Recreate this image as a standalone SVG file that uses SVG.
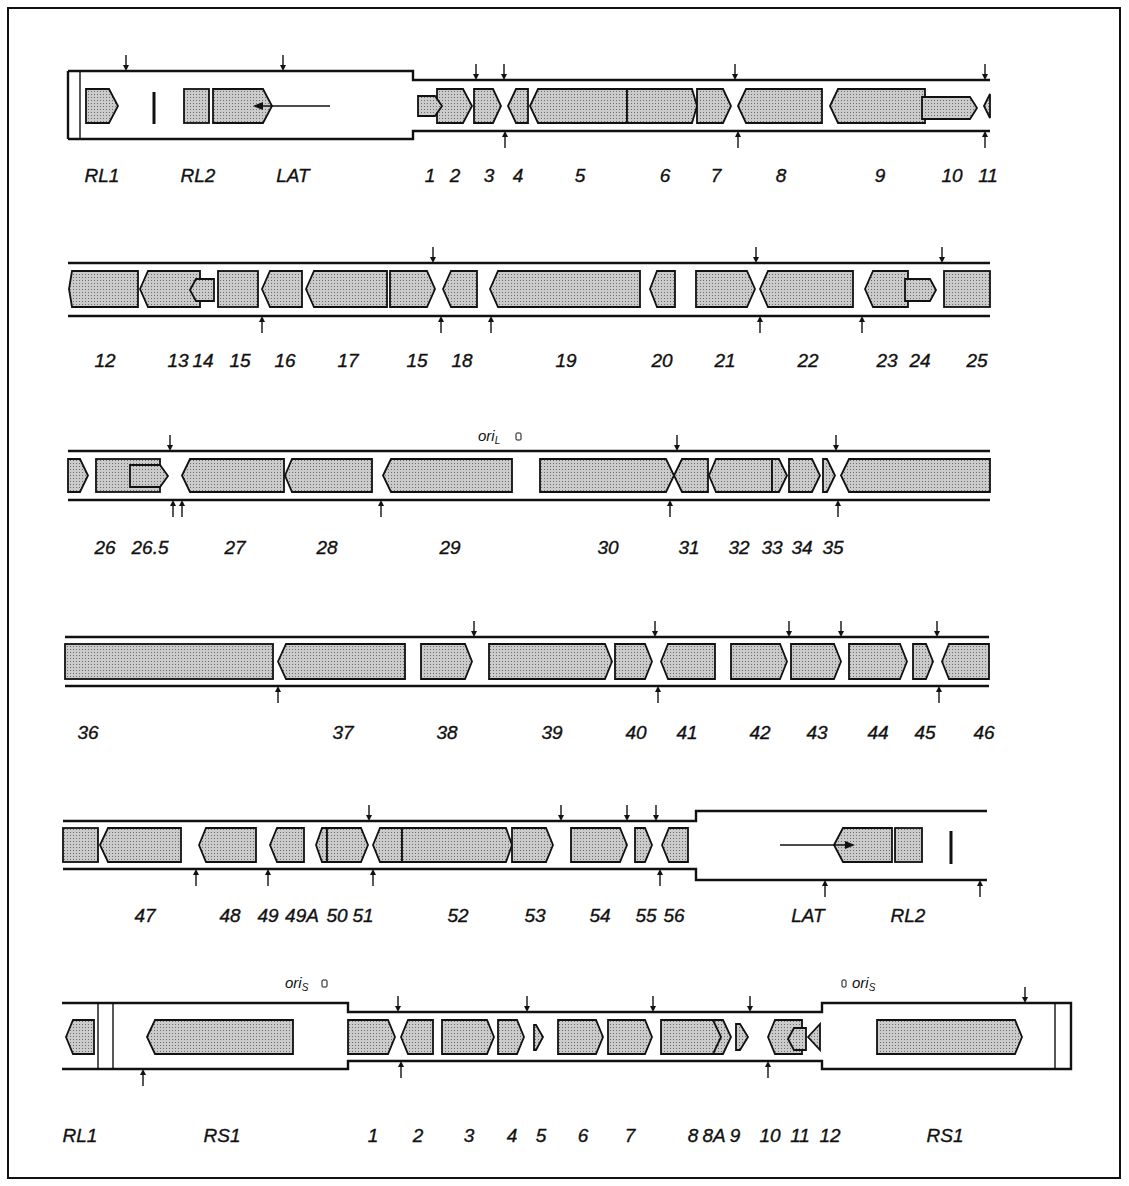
<svg xmlns="http://www.w3.org/2000/svg" width="1129" height="1186" viewBox="0 0 1129 1186">
<style>
.g{fill:url(#dots);stroke:#111;stroke-width:1.8;stroke-linejoin:miter}
.ln{fill:none;stroke:#111;stroke-width:2.4}
.thin{fill:none;stroke:#111;stroke-width:1.4}
.lbl{font-family:"Liberation Sans",Arial,sans-serif;font-style:italic;font-size:19px;text-anchor:middle;fill:#111;stroke:#111;stroke-width:0.35}
.ori{font-family:"Liberation Sans",Arial,sans-serif;font-style:italic;font-size:15px;fill:#111}
.sq{fill:none;stroke:#111;stroke-width:1}
.ar{fill:#111}
</style>
<defs>
<pattern id="dots" width="3" height="3" patternUnits="userSpaceOnUse">
<rect width="3" height="3" fill="#cbcbcb"/><rect x="1" y="1" width="1" height="1" fill="#6e6e6e"/>
</pattern>
<g id="dn"><path d="M0,-16V-4" stroke="#111" stroke-width="1.4"/><path d="M-3,-6H3L0,0Z" fill="#111"/></g>
<g id="up"><path d="M0,17V4" stroke="#111" stroke-width="1.4"/><path d="M-3,6H3L0,0Z" fill="#111"/></g>
</defs>
<rect x="0" y="0" width="1129" height="1186" fill="#fff"/>
<rect x="8" y="8" width="1112" height="1170" fill="none" stroke="#111" stroke-width="2"/>

<!-- ROW 1 -->
<g id="row1-dna">
<path class="ln" d="M68,71H413V80H990M68,139H413V131H990M68,71V139"/>
<path class="thin" d="M80,71V139"/>
</g>
<g id="r1-RL1"><polygon class="g" points="86,89 109,89 118,106 109,123 86,123"/><text class="lbl" x="102" y="182">RL1</text></g>
<g id="r1-bar"><rect x="152.5" y="92" width="3" height="32" fill="#111"/></g>
<g id="r1-RL2"><rect class="g" x="184" y="89" width="25" height="34"/><text class="lbl" x="198" y="182">RL2</text></g>
<g id="r1-LAT"><polygon class="g" points="213,89 263,89 272,106 263,123 213,123"/><text class="lbl" x="293" y="182">LAT</text></g>
<g id="r1-2"><polygon class="g" points="437,89 463,89 472,106 463,123 437,123"/><text class="lbl" x="455" y="182">2</text></g>
<g id="r1-1"><polygon class="g" points="418,96 435,96 442,106 435,116 418,116"/><text class="lbl" x="430" y="182">1</text></g>
<g id="r1-3"><polygon class="g" points="474,89 493,89 501,106 493,123 474,123"/><text class="lbl" x="489" y="182">3</text></g>
<g id="r1-4"><polygon class="g" points="508,106 516,89 528,89 528,123 516,123"/><text class="lbl" x="518" y="182">4</text></g>
<g id="r1-5"><polygon class="g" points="530,106 538,89 627,89 627,123 538,123"/><text class="lbl" x="580" y="182">5</text></g>
<g id="r1-6"><polygon class="g" points="627,89 692,89 697,106 692,123 627,123"/><text class="lbl" x="665" y="182">6</text></g>
<g id="r1-7"><polygon class="g" points="697,89 723,89 731,106 723,123 697,123"/><text class="lbl" x="716" y="182">7</text></g>
<g id="r1-8"><polygon class="g" points="738,106 746,89 822,89 822,123 746,123"/><text class="lbl" x="781" y="182">8</text></g>
<g id="r1-9"><polygon class="g" points="830,106 838,89 925,89 925,123 838,123"/><text class="lbl" x="880" y="182">9</text></g>
<g id="r1-10"><polygon class="g" points="922,97 970,97 977,108 970,119 922,119"/><text class="lbl" x="952" y="182">10</text></g>
<g id="r1-11"><polygon class="g" points="984,106 990,94 990,118"/><text class="lbl" x="988" y="182">11</text></g>

<!-- ROW 2 -->
<g id="row2-dna"><path class="ln" d="M68,263H990M68,316H990"/></g>
<g id="r2-12"><polygon class="g" points="69,289 72,271 138,271 138,307 72,307"/><text class="lbl" x="105" y="367">12</text></g>
<g id="r2-13"><polygon class="g" points="140,289 148,271 200,271 200,307 148,307"/><text class="lbl" x="178" y="367">13</text></g>
<g id="r2-14"><polygon class="g" points="190,290 196,279 214,279 214,301 196,301"/><text class="lbl" x="203" y="367">14</text></g>
<g id="r2-15a"><rect class="g" x="218" y="271" width="40" height="36"/><text class="lbl" x="240" y="367">15</text></g>
<g id="r2-16"><polygon class="g" points="262,289 270,271 302,271 302,307 270,307"/><text class="lbl" x="285" y="367">16</text></g>
<g id="r2-17"><polygon class="g" points="306,289 314,271 387,271 387,307 314,307"/><text class="lbl" x="348" y="367">17</text></g>
<g id="r2-15b"><polygon class="g" points="390,271 427,271 435,289 427,307 390,307"/><text class="lbl" x="417" y="367">15</text></g>
<g id="r2-18"><polygon class="g" points="443,289 451,271 477,271 477,307 451,307"/><text class="lbl" x="462" y="367">18</text></g>
<g id="r2-19"><polygon class="g" points="490,289 498,271 640,271 640,307 498,307"/><text class="lbl" x="566" y="367">19</text></g>
<g id="r2-20"><polygon class="g" points="650,289 657,271 675,271 675,307 657,307"/><text class="lbl" x="662" y="367">20</text></g>
<g id="r2-21"><polygon class="g" points="696,271 747,271 755,289 747,307 696,307"/><text class="lbl" x="725" y="367">21</text></g>
<g id="r2-22"><polygon class="g" points="760,289 768,271 853,271 853,307 768,307"/><text class="lbl" x="808" y="367">22</text></g>
<g id="r2-23"><polygon class="g" points="865,289 873,271 908,271 908,307 873,307"/><text class="lbl" x="887" y="367">23</text></g>
<g id="r2-24"><polygon class="g" points="905,279 930,279 936,290 930,301 905,301"/><text class="lbl" x="920" y="367">24</text></g>
<g id="r2-25"><rect class="g" x="944" y="271" width="46" height="36"/><text class="lbl" x="977" y="367">25</text></g>

<!-- ROW 3 -->
<g id="row3-dna"><path class="ln" d="M68,451H990M68,500H990"/></g>
<g id="r3-oriL"><text class="ori" x="478" y="441">ori<tspan font-size="10" dy="3">L</tspan></text><rect class="sq" x="516" y="433" width="5" height="7" rx="1"/></g>
<g id="r3-25"><polygon class="g" points="68,459 80,459 88,475.5 80,492 68,492"/></g>
<g id="r3-26"><rect class="g" x="96" y="459" width="64" height="33"/><text class="lbl" x="105" y="554">26</text></g>
<g id="r3-26.5"><polygon class="g" points="130,465 160,465 168,476 160,487 130,487"/><text class="lbl" x="150" y="554">26.5</text></g>
<g id="r3-27"><polygon class="g" points="182,475.5 190,459 284,459 284,492 190,492"/><text class="lbl" x="235" y="554">27</text></g>
<g id="r3-28"><polygon class="g" points="285,475.5 292,459 372,459 372,492 292,492"/><text class="lbl" x="327" y="554">28</text></g>
<g id="r3-29"><polygon class="g" points="383,475.5 391,459 512,459 512,492 391,492"/><text class="lbl" x="450" y="554">29</text></g>
<g id="r3-30"><polygon class="g" points="540,459 666,459 674,475.5 666,492 540,492"/><text class="lbl" x="608" y="554">30</text></g>
<g id="r3-31"><polygon class="g" points="674,475.5 682,459 708,459 708,492 682,492"/><text class="lbl" x="689" y="554">31</text></g>
<g id="r3-32"><polygon class="g" points="709,475.5 716,459 772,459 772,492 716,492"/><text class="lbl" x="739" y="554">32</text></g>
<g id="r3-33"><polygon class="g" points="772,459 779,459 787,475.5 779,492 772,492"/><text class="lbl" x="772" y="554">33</text></g>
<g id="r3-34"><polygon class="g" points="789,459 812,459 820,475.5 812,492 789,492"/><text class="lbl" x="802" y="554">34</text></g>
<g id="r3-35"><polygon class="g" points="823,459 827,459 835,475.5 827,492 823,492"/><text class="lbl" x="833" y="554">35</text></g>
<g id="r3-36"><polygon class="g" points="841,475.5 849,459 990,459 990,492 849,492"/></g>

<!-- ROW 4 -->
<g id="row4-dna"><path class="ln" d="M65,637H989M65,686H989"/></g>
<g id="r4-36"><rect class="g" x="65" y="644" width="208" height="35"/><text class="lbl" x="88" y="739">36</text></g>
<g id="r4-37"><polygon class="g" points="278,661.5 286,644 405,644 405,679 286,679"/><text class="lbl" x="343" y="739">37</text></g>
<g id="r4-38"><polygon class="g" points="421,644 465,644 472,661.5 465,679 421,679"/><text class="lbl" x="447" y="739">38</text></g>
<g id="r4-39"><polygon class="g" points="489,644 605,644 612,661.5 605,679 489,679"/><text class="lbl" x="552" y="739">39</text></g>
<g id="r4-40"><polygon class="g" points="615,644 645,644 652,661.5 645,679 615,679"/><text class="lbl" x="636" y="739">40</text></g>
<g id="r4-41"><polygon class="g" points="661,661.5 668,644 715,644 715,679 668,679"/><text class="lbl" x="687" y="739">41</text></g>
<g id="r4-42"><polygon class="g" points="731,644 780,644 787,661.5 780,679 731,679"/><text class="lbl" x="760" y="739">42</text></g>
<g id="r4-43"><polygon class="g" points="791,644 834,644 841,661.5 834,679 791,679"/><text class="lbl" x="817" y="739">43</text></g>
<g id="r4-44"><polygon class="g" points="849,644 900,644 907,661.5 900,679 849,679"/><text class="lbl" x="878" y="739">44</text></g>
<g id="r4-45"><polygon class="g" points="913,644 926,644 933,661.5 926,679 913,679"/><text class="lbl" x="925" y="739">45</text></g>
<g id="r4-46"><polygon class="g" points="942,661.5 949,644 989,644 989,679 949,679"/><text class="lbl" x="984" y="739">46</text></g>

<!-- ROW 5 -->
<g id="row5-dna"><path class="ln" d="M63,821H696V811H987M63,869H696V880H987"/></g>
<g id="r5-46"><rect class="g" x="63" y="828" width="35" height="34"/></g>
<g id="r5-47"><polygon class="g" points="100,845 108,828 181,828 181,862 108,862"/><text class="lbl" x="145" y="922">47</text></g>
<g id="r5-48"><polygon class="g" points="199,845 206,828 256,828 256,862 206,862"/><text class="lbl" x="230" y="922">48</text></g>
<g id="r5-49"><polygon class="g" points="270,845 277,828 304,828 304,862 277,862"/><text class="lbl" x="268" y="922">49</text></g>
<g id="r5-49A"><polygon class="g" points="316,845 322,828 327,828 327,862 322,862"/><text class="lbl" x="302" y="922">49A</text></g>
<g id="r5-50"><polygon class="g" points="327,828 361,828 368,845 361,862 327,862"/><text class="lbl" x="337" y="922">50</text></g>
<g id="r5-51"><polygon class="g" points="373,845 380,828 402,828 402,862 380,862"/><text class="lbl" x="363" y="922">51</text></g>
<g id="r5-52"><polygon class="g" points="402,828 506,828 512,845 506,862 402,862"/><text class="lbl" x="458" y="922">52</text></g>
<g id="r5-53"><polygon class="g" points="512,828 546,828 553,845 546,862 512,862"/><text class="lbl" x="535" y="922">53</text></g>
<g id="r5-54"><polygon class="g" points="571,828 620,828 627,845 620,862 571,862"/><text class="lbl" x="600" y="922">54</text></g>
<g id="r5-55"><polygon class="g" points="635,828 645,828 652,845 645,862 635,862"/><text class="lbl" x="646" y="922">55</text></g>
<g id="r5-56"><polygon class="g" points="662,845 669,828 688,828 688,862 669,862"/><text class="lbl" x="674" y="922">56</text></g>
<g id="r5-LAT"><polygon class="g" points="834,845 843,828 892,828 892,862 843,862"/><text class="lbl" x="808" y="922">LAT</text></g>
<g id="r5-RL2"><rect class="g" x="895" y="828" width="27" height="34"/><text class="lbl" x="908" y="922">RL2</text></g>
<g id="r5-bar"><rect x="949.5" y="831" width="3" height="33" fill="#111"/></g>

<!-- ROW 6 -->
<g id="row6-dna">
<path class="ln" d="M62,1003H348V1012H822V1003H1071V1069H822V1061H348V1069H62"/>
<path class="thin" d="M98,1003V1069M113,1003V1069M1055,1003V1069"/>
</g>
<g id="r6-oriS-a"><text class="ori" x="285" y="988">ori<tspan font-size="10" dy="3">S</tspan></text><rect class="sq" x="322" y="980" width="5" height="7" rx="1"/></g>
<g id="r6-oriS-b"><rect class="sq" x="842" y="980" width="4" height="7" rx="1"/><text class="ori" x="852" y="988">ori<tspan font-size="10" dy="3">S</tspan></text></g>
<g id="r6-RL1"><polygon class="g" points="66,1037 73,1020 94,1020 94,1054 73,1054"/><text class="lbl" x="80" y="1142">RL1</text></g>
<g id="r6-RS1a"><polygon class="g" points="147,1037 155,1020 293,1020 293,1054 155,1054"/><text class="lbl" x="222" y="1142">RS1</text></g>
<g id="r6-1"><polygon class="g" points="348,1020 388,1020 395,1037 388,1054 348,1054"/><text class="lbl" x="373" y="1142">1</text></g>
<g id="r6-2"><polygon class="g" points="401,1037 408,1020 433,1020 433,1054 408,1054"/><text class="lbl" x="418" y="1142">2</text></g>
<g id="r6-3"><polygon class="g" points="442,1020 487,1020 494,1037 487,1054 442,1054"/><text class="lbl" x="469" y="1142">3</text></g>
<g id="r6-4"><polygon class="g" points="498,1020 517,1020 524,1037 517,1054 498,1054"/><text class="lbl" x="512" y="1142">4</text></g>
<g id="r6-5"><polygon class="g" points="534,1025 536,1025 543,1037 536,1050 534,1050"/><text class="lbl" x="541" y="1142">5</text></g>
<g id="r6-6"><polygon class="g" points="558,1020 596,1020 603,1037 596,1054 558,1054"/><text class="lbl" x="583" y="1142">6</text></g>
<g id="r6-7"><polygon class="g" points="608,1020 645,1020 652,1037 645,1054 608,1054"/><text class="lbl" x="630" y="1142">7</text></g>
<g id="r6-8A"><polygon class="g" points="712,1020 723,1020 731,1037 723,1054 712,1054"/><text class="lbl" x="714" y="1142">8A</text></g>
<g id="r6-8"><polygon class="g" points="661,1020 713,1020 721,1037 713,1054 661,1054"/><text class="lbl" x="693" y="1142">8</text></g>
<g id="r6-9"><polygon class="g" points="736,1024 740,1024 748,1037 740,1050 736,1050"/><text class="lbl" x="735" y="1142">9</text></g>
<g id="r6-10"><polygon class="g" points="768,1037 775,1020 802,1020 802,1054 775,1054"/><text class="lbl" x="770" y="1142">10</text></g>
<g id="r6-11"><polygon class="g" points="788,1039 794,1028 806,1028 806,1050 794,1050"/><text class="lbl" x="800" y="1142">11</text></g>
<g id="r6-12"><polygon class="g" points="808,1037 820,1024 820,1050"/><text class="lbl" x="830" y="1142">12</text></g>
<g id="r6-RS1b"><polygon class="g" points="877,1020 1015,1020 1022,1037 1015,1054 877,1054"/><text class="lbl" x="945" y="1142">RS1</text></g>

<!-- connectors: transcript arrows and polyA / promoter marks -->
<g id="connectors">
<path d="M330,106H260" stroke="#111" stroke-width="1.4"/><path class="ar" d="M253,106L263,102V110Z"/>
<path d="M780,845H848" stroke="#111" stroke-width="1.4"/><path class="ar" d="M855,845L845,841V849Z"/>
<use href="#dn" x="126" y="71"/><use href="#dn" x="283" y="71"/><use href="#dn" x="476" y="80"/><use href="#dn" x="504" y="80"/><use href="#dn" x="735" y="80"/><use href="#dn" x="985" y="80"/>
<use href="#up" x="505" y="131"/><use href="#up" x="738" y="131"/><use href="#up" x="985" y="131"/>
<use href="#dn" x="433" y="263"/><use href="#dn" x="756" y="263"/><use href="#dn" x="942" y="263"/>
<use href="#up" x="262" y="316"/><use href="#up" x="441" y="316"/><use href="#up" x="491" y="316"/><use href="#up" x="760" y="316"/><use href="#up" x="862" y="316"/>
<use href="#dn" x="170" y="451"/><use href="#dn" x="677" y="451"/><use href="#dn" x="836" y="451"/>
<use href="#up" x="173" y="500"/><use href="#up" x="182" y="500"/><use href="#up" x="381" y="500"/><use href="#up" x="670" y="500"/><use href="#up" x="838" y="500"/>
<use href="#dn" x="474" y="637"/><use href="#dn" x="655" y="637"/><use href="#dn" x="789" y="637"/><use href="#dn" x="841" y="637"/><use href="#dn" x="937" y="637"/>
<use href="#up" x="278" y="686"/><use href="#up" x="658" y="686"/><use href="#up" x="939" y="686"/>
<use href="#dn" x="369" y="821"/><use href="#dn" x="561" y="821"/><use href="#dn" x="627" y="821"/><use href="#dn" x="656" y="821"/>
<use href="#up" x="196" y="869"/><use href="#up" x="268" y="869"/><use href="#up" x="373" y="869"/><use href="#up" x="660" y="869"/><use href="#up" x="825" y="880"/><use href="#up" x="980" y="880"/>
<use href="#dn" x="398" y="1012"/><use href="#dn" x="527" y="1012"/><use href="#dn" x="653" y="1012"/><use href="#dn" x="750" y="1012"/><use href="#dn" x="1025" y="1003"/>
<use href="#up" x="143" y="1069"/><use href="#up" x="401" y="1061"/><use href="#up" x="768" y="1061"/>
</g>
</svg>
